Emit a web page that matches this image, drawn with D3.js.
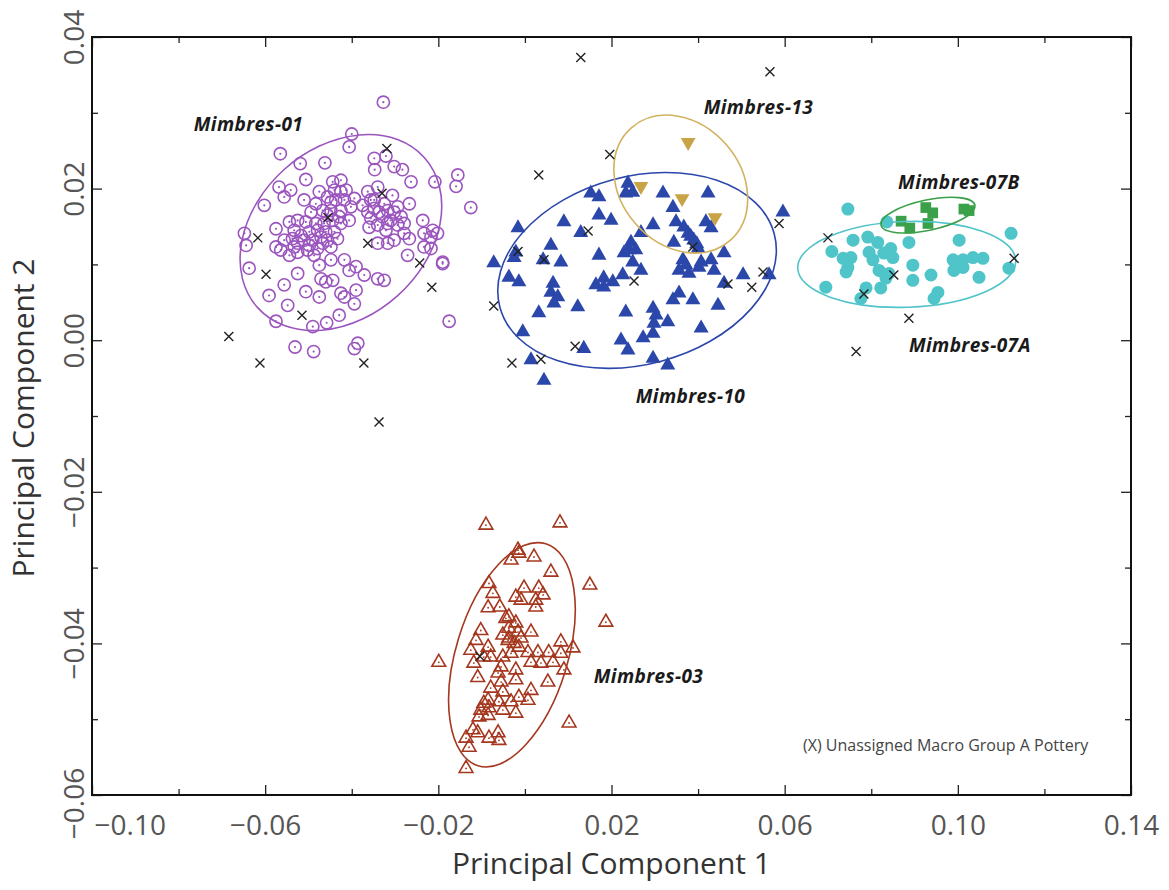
<!DOCTYPE html>
<html>
<head>
<meta charset="utf-8">
<script src="https://cdn.jsdelivr.net/npm/d3@7"></script>
<style>
  body { margin: 0; background: #fff; }
  text { font-family: "Open Sans", sans-serif; }
</style>
</head>
<body>
<div id="chart"></div>
<script>
// PCA scores, [PC1, PC2]
var mimbres01 = [
  [-0.0565,0.0246],[-0.0519,0.0233],[-0.0462,0.0234],[-0.0406,0.0255],[-0.0348,0.0240],[-0.0347,0.0225],[-0.0302,0.0229],[-0.0283,0.0225],[-0.0263,0.0209],[-0.0208,0.0209],[-0.0321,0.0243],
  [-0.0506,0.0212],[-0.0568,0.0202],[-0.0541,0.0198],[-0.0556,0.0189],[-0.0475,0.0196],[-0.0444,0.0209],[-0.0425,0.0211],[-0.0440,0.0198],[-0.0425,0.0196],[-0.0363,0.0196],[-0.0340,0.0202],[-0.0306,0.0191],[-0.0267,0.0180],[-0.0236,0.0158],[-0.0213,0.0145],[-0.0202,0.0141],
  [-0.0602,0.0178],[-0.0510,0.0185],[-0.0483,0.0180],[-0.0448,0.0182],[-0.0417,0.0185],[-0.0394,0.0187],[-0.0402,0.0176],[-0.0425,0.0171],[-0.0467,0.0171],[-0.0494,0.0169],[-0.0375,0.0178],[-0.0356,0.0185],[-0.0348,0.0174],[-0.0325,0.0180],[-0.0317,0.0171],[-0.0302,0.0169],[-0.0286,0.0163],[-0.0294,0.0152],[-0.0329,0.0163],[-0.0356,0.0161],[-0.0340,0.0152],[-0.0321,0.0145],
  [-0.0575,0.0147],[-0.0544,0.0156],[-0.0525,0.0158],[-0.0506,0.0156],[-0.0483,0.0154],[-0.0464,0.0154],[-0.0444,0.0158],[-0.0425,0.0154],[-0.0406,0.0158],[-0.0360,0.0149],[-0.0302,0.0132],[-0.0279,0.0141],[-0.0267,0.0134],[-0.0233,0.0141],[-0.0217,0.0136],
  [-0.0648,0.0141],[-0.0644,0.0125],[-0.0575,0.0123],[-0.0556,0.0132],[-0.0537,0.0134],[-0.0525,0.0128],[-0.0510,0.0132],[-0.0490,0.0132],[-0.0471,0.0136],[-0.0456,0.0132],[-0.0433,0.0134],[-0.0448,0.0123],[-0.0479,0.0121],[-0.0502,0.0119],[-0.0525,0.0116],[-0.0544,0.0112],[-0.0564,0.0119],[-0.0340,0.0128],[-0.0317,0.0128],[-0.0271,0.0112],[-0.0233,0.0123],[-0.0217,0.0121],[-0.0190,0.0101],
  [-0.0475,0.0099],[-0.0448,0.0106],[-0.0417,0.0106],[-0.0390,0.0097],[-0.0406,0.0092],[-0.0637,0.0095],[-0.0525,0.0088],[-0.0556,0.0073],[-0.0471,0.0081],[-0.0460,0.0077],[-0.0444,0.0079],[-0.0425,0.0062],[-0.0417,0.0057],[-0.0390,0.0066],[-0.0371,0.0086],[-0.0340,0.0081],[-0.0325,0.0079],
  [-0.0591,0.0059],[-0.0548,0.0046],[-0.0506,0.0064],[-0.0475,0.0057],[-0.0394,0.0048],[-0.0429,0.0033],
  [-0.0327,0.0314],[-0.0400,0.0272],[-0.0155,0.0218],[-0.0159,0.0203],[-0.0125,0.0175],[-0.0190,0.0103],[-0.0175,0.0025],[-0.0575,0.0025],[-0.0531,-0.0009],[-0.0488,-0.0015],[-0.0490,0.0018],[-0.0458,0.0023],[-0.0394,-0.0011],[-0.0386,-0.0004],
  [-0.0533,0.0145],[-0.0517,0.0138],[-0.0498,0.0143],[-0.0479,0.0145],[-0.0460,0.0143],[-0.0440,0.0143],[-0.0498,0.0125],[-0.0467,0.0128],[-0.0533,0.0123],[-0.0487,0.0112],[-0.0456,0.0189],[-0.0437,0.0185],[-0.0413,0.0198],[-0.0448,0.0171],[-0.0429,0.0163],[-0.0456,0.0165],[-0.0363,0.0169],[-0.0337,0.0169],[-0.0310,0.0158],[-0.0317,0.0154],[-0.0348,0.0185],[-0.0294,0.0176],[-0.0279,0.0154]
];

var mimbres10 = [
  [0.0238,0.0207],[0.0249,0.0195],[0.0233,0.0194],[0.0152,0.0194],[0.0171,0.0189],[0.0319,0.0194],[0.0423,0.0194],[0.0342,0.0175],[0.0171,0.0165],[0.0199,0.0158],[0.0090,0.0156],[0.0296,0.0152],[0.0349,0.0156],[0.0367,0.0149],[0.0418,0.0156],[0.0430,0.0148],[0.0596,0.0169],[-0.0016,0.0148],[0.0129,0.0142],[0.0268,0.0142],[0.0377,0.0141],[0.0390,0.0132],[0.0344,0.0129],[0.0245,0.0129],[0.0060,0.0125],[0.0240,0.0119],[0.0256,0.0119],[0.0229,0.0115],[-0.0021,0.0116],[-0.0025,0.0109],[0.0171,0.0112],[0.0400,0.0121],[0.0460,0.0115],[0.0365,0.0106],[0.0430,0.0106],[-0.0072,0.0102],[0.0042,0.0106],[0.0083,0.0103],[0.0268,0.0092],[0.0356,0.0092],[0.0379,0.0088],[0.0402,0.0096],[0.0437,0.0092],[-0.0037,0.0083],[-0.0014,0.0077],[0.0065,0.0075],[0.0164,0.0073],[0.0182,0.0082],[0.0203,0.0077],[0.0226,0.0086],[0.0182,0.0070],[0.0460,0.0075],[0.0504,0.0086],[0.0564,0.0086],[0.0060,0.0063],[0.0076,0.0057],[0.0067,0.0049],[0.0032,0.0036],[0.0122,0.0044],[0.0233,0.0037],[0.0342,0.0053],[0.0356,0.0062],[0.0388,0.0053],[0.0446,0.0046],[0.0296,0.0042],[0.0303,0.0033],[0.0330,0.0024],[0.0298,0.0022],[0.0296,0.0009],[0.0407,0.0016],[-0.0005,0.0011],[0.0273,0.0003],[0.0222,0.0000],[0.0238,-0.0013],[0.0136,-0.0011],[0.0014,-0.0026],[0.0296,-0.0024],[0.0330,-0.0033],[0.0044,-0.0053],[0.0383,0.0137],[0.0397,0.0127],[0.0372,0.0099],[0.0407,0.0103],[0.0249,0.0103]
];

var mimbres03 = [
  [-0.0090,-0.0244],[0.0081,-0.0241],[-0.0016,-0.0277],[-0.0032,-0.0290],[0.0021,-0.0286],[-0.0014,-0.0281],[0.0060,-0.0306],[0.0150,-0.0323],[-0.0083,-0.0321],[-0.0074,-0.0334],[-0.0002,-0.0327],[-0.0021,-0.0339],[-0.0009,-0.0343],[0.0032,-0.0327],[0.0042,-0.0336],[0.0025,-0.0343],[0.0025,-0.0352],[-0.0085,-0.0353],[-0.0058,-0.0352],[0.0187,-0.0372],[-0.0037,-0.0365],[-0.0102,-0.0383],[-0.0051,-0.0389],[-0.0037,-0.0380],[-0.0016,-0.0385],[0.0014,-0.0385],[-0.0113,-0.0396],[-0.0085,-0.0405],[-0.0039,-0.0396],[-0.0025,-0.0400],[-0.0014,-0.0405],[0.0083,-0.0398],[0.0111,-0.0406],[0.0007,-0.0412],[0.0030,-0.0412],[0.0055,-0.0412],[0.0083,-0.0413],[-0.0199,-0.0425],[-0.0118,-0.0426],[-0.0079,-0.0418],[-0.0051,-0.0418],[-0.0032,-0.0413],[0.0014,-0.0425],[0.0037,-0.0426],[0.0065,-0.0425],[0.0090,-0.0435],[-0.0109,-0.0445],[-0.0055,-0.0431],[-0.0021,-0.0435],[0.0053,-0.0451],[-0.0079,-0.0459],[-0.0055,-0.0451],[-0.0051,-0.0464],[-0.0021,-0.0448],[0.0014,-0.0462],[-0.0014,-0.0471],[0.0007,-0.0475],[-0.0032,-0.0477],[-0.0095,-0.0479],[-0.0102,-0.0488],[-0.0083,-0.0485],[-0.0106,-0.0497],[-0.0085,-0.0495],[-0.0060,-0.0477],[-0.0051,-0.0488],[-0.0021,-0.0492],[0.0102,-0.0505],[-0.0120,-0.0514],[-0.0136,-0.0525],[-0.0083,-0.0525],[-0.0062,-0.0518],[-0.0060,-0.0528],[-0.0129,-0.0537],[-0.0136,-0.0565],[-0.0109,-0.0518],[-0.0037,-0.0393],[-0.0062,-0.0439],[-0.0009,-0.0393],[-0.0095,-0.0418],[-0.0125,-0.0409],[-0.0085,-0.0475],[-0.0044,-0.0367],[-0.0021,-0.0373]
];

var mimbres07A = [
  [0.0746,0.0173],[0.0836,0.0156],[0.0758,0.0132],[0.0792,0.0136],[0.0815,0.0129],[0.0845,0.0121],[0.0887,0.0129],[0.1003,0.0132],[0.1123,0.0141],[0.0709,0.0117],[0.0735,0.0108],[0.0753,0.0109],[0.0746,0.0096],[0.0742,0.0090],[0.0804,0.0106],[0.0795,0.0116],[0.0829,0.0115],[0.0850,0.0109],[0.0818,0.0092],[0.0841,0.0088],[0.0834,0.0082],[0.0896,0.0099],[0.0896,0.0079],[0.0938,0.0086],[0.0989,0.0106],[0.1012,0.0106],[0.1035,0.0109],[0.1058,0.0108],[0.0991,0.0092],[0.1049,0.0083],[0.1118,0.0095],[0.0695,0.0070],[0.0788,0.0069],[0.0822,0.0069],[0.0776,0.0055],[0.0954,0.0063],[0.0945,0.0055],[0.1012,0.0096]
];

var mimbres07B = [
  [0.0869,0.0157],[0.0889,0.0148],[0.0926,0.0175],[0.0942,0.0168],[0.0931,0.0154],[0.1014,0.0173],[0.1026,0.0171]
];

var mimbres13 = [
  [0.0377,0.0261],[0.0268,0.0203],[0.0363,0.0187],[0.0439,0.0162]
];

// (X) unassigned Macro Group A pottery
var unassigned = [
  [0.0129,0.0373],[0.0566,0.0354],[-0.0319,0.0253],[0.0196,0.0245],[0.0032,0.0218],[-0.0455,0.0162],[-0.0330,0.0194],[-0.0617,0.0135],[-0.0363,0.0128],[-0.0243,0.0102],[-0.0598,0.0087],[-0.0215,0.0070],[-0.0515,0.0033],[-0.0684,0.0005],[-0.0612,-0.0030],[-0.0372,-0.0030],[-0.0337,-0.0108],
  [0.0146,0.0144],[-0.0016,0.0117],[0.0044,0.0106],[0.0252,0.0078],[-0.0072,0.0045],[0.0116,-0.0008],[-0.0030,-0.0030],[0.0037,-0.0025],[0.0388,0.0123],[0.0587,0.0154],[0.0550,0.0090],[0.0524,0.0070],[0.0469,0.0074],
  [0.0700,0.0135],[0.0852,0.0086],[0.0783,0.0061],[0.1130,0.0108],[0.0887,0.0029],[0.0765,-0.0015],[-0.0104,-0.0417]
];

// confidence ellipses: centre, semi-axes (PC1 units), screen rotation in degrees
var ellipses = [
  {group: "Mimbres-01",  cx: -0.0425, cy: 0.0142,  a: 0.0259, b: 0.0196, angle: -42},
  {group: "Mimbres-10",  cx: 0.0259,  cy: 0.0092,  a: 0.0328, b: 0.0217, angle: -15},
  {group: "Mimbres-13",  cx: 0.0360,  cy: 0.0206,  a: 0.0173, b: 0.0139, angle: 49},
  {group: "Mimbres-03",  cx: -0.0030, cy: -0.0415, a: 0.0268, b: 0.0129, angle: -73},
  {group: "Mimbres-07A", cx: 0.0882,  cy: 0.0100,  a: 0.0252, b: 0.0099, angle: -2},
  {group: "Mimbres-07B", cx: 0.0931,  cy: 0.0165,  a: 0.0111, b: 0.0035, angle: -12}
];

var groupLabels = [
  {text: "Mimbres-01",  x: -0.0765, y: 0.0276},
  {text: "Mimbres-13",  x: 0.0413,  y: 0.0298},
  {text: "Mimbres-07B", x: 0.0862,  y: 0.0200},
  {text: "Mimbres-07A", x: 0.0887,  y: -0.0016},
  {text: "Mimbres-10",  x: 0.0256,  y: -0.0083},
  {text: "Mimbres-03",  x: 0.0159,  y: -0.0452}
];

var xMajor = [-0.10, -0.06, -0.02, 0.02, 0.06, 0.10, 0.14];
var xMinor = [-0.08, -0.04, 0.00, 0.04, 0.08, 0.12];
var yMajor = [0.04, 0.02, 0.00, -0.02, -0.04, -0.06];
var yMinor = [0.03, 0.01, -0.01, -0.03, -0.05];

var colors = {
  "Mimbres-01": "#9b55be",
  "Mimbres-10": "#2b47aa",
  "Mimbres-13": "#d1b25e",
  "Mimbres-03": "#a5371e",
  "Mimbres-07A": "#4fc4c9",
  "Mimbres-07B": "#3aa049"
};

var margin = {top: 37, right: 38, bottom: 95, left: 92},
    width = 1169 - margin.left - margin.right,
    height = 890 - margin.top - margin.bottom;

var x = d3.scaleLinear().domain([-0.10, 0.14]).range([0, width]);
var y = d3.scaleLinear().domain([-0.06, 0.04]).range([height, 0]);
var fmt = d3.format(".2f");

var svg = d3.select("#chart").append("svg")
  .attr("width", 1169)
  .attr("height", 890);

var main = svg.append("g")
  .attr("transform", "translate(" + margin.left + "," + margin.top + ")");

// ---- axes (ticks point into the plot) ----
var axBottom = main.append("g")
  .attr("transform", "translate(0," + height + ")")
  .call(d3.axisBottom(x).tickValues(xMajor).tickSize(-10).tickPadding(20).tickFormat(fmt));
axBottom.append("g").call(d3.axisBottom(x).tickValues(xMinor).tickSize(-6).tickFormat(""));

var axTop = main.append("g")
  .call(d3.axisTop(x).tickValues(xMajor).tickSize(-10).tickFormat(""));
axTop.append("g").call(d3.axisTop(x).tickValues(xMinor).tickSize(-6).tickFormat(""));

var axLeft = main.append("g")
  .call(d3.axisLeft(y).tickValues(yMajor).tickSize(-10).tickFormat(fmt));
axLeft.append("g").call(d3.axisLeft(y).tickValues(yMinor).tickSize(-6).tickFormat(""));

var axRight = main.append("g")
  .attr("transform", "translate(" + width + ",0)")
  .call(d3.axisRight(y).tickValues(yMajor).tickSize(-10).tickFormat(""));
axRight.append("g").call(d3.axisRight(y).tickValues(yMinor).tickSize(-6).tickFormat(""));

main.selectAll(".domain").remove();
main.selectAll(".tick line").attr("stroke", "#222").attr("stroke-width", 1.3);

axBottom.selectAll(".tick text")
  .attr("font-size", 28)
  .attr("fill", "#555")
  .attr("font-family", "Open Sans, sans-serif");
// first label sits to the right of the corner
axBottom.selectAll(".tick text").filter(function(d) { return d === xMajor[0]; })
  .attr("text-anchor", "start").attr("x", 2);

// y tick labels are turned on their side
axLeft.selectAll(".tick text")
  .attr("font-size", 28)
  .attr("fill", "#555")
  .attr("font-family", "Open Sans, sans-serif")
  .attr("text-anchor", "middle")
  .attr("x", 0).attr("y", 0).attr("dy", 0)
  .attr("transform", function(d) {
    var shift = d === yMajor[yMajor.length - 1] ? 8 : 0;
    return "translate(-8," + shift + ") rotate(-90)";
  });

// frame
main.append("rect")
  .attr("width", width)
  .attr("height", height)
  .attr("fill", "none")
  .attr("stroke", "#111")
  .attr("stroke-width", 2);

// ---- points ----
var plot = main.append("g");

// Mimbres-01: open circle with a centre dot
var g01 = plot.append("g").selectAll("g").data(mimbres01).enter().append("g")
  .attr("transform", function(d) { return "translate(" + x(d[0]) + "," + y(d[1]) + ")"; });
g01.append("circle").attr("r", 6.1).attr("fill", "none")
  .attr("stroke", colors["Mimbres-01"]).attr("stroke-width", 1.6);
g01.append("circle").attr("r", 1.1).attr("fill", colors["Mimbres-01"]);

// Mimbres-10: filled triangles
plot.append("g").selectAll("path").data(mimbres10).enter().append("path")
  .attr("d", d3.symbol().type(d3.symbolTriangle).size(98))
  .attr("transform", function(d) { return "translate(" + x(d[0]) + "," + y(d[1]) + ")"; })
  .attr("fill", colors["Mimbres-10"]);

// Mimbres-03: open triangles with a centre dot
var g03 = plot.append("g").selectAll("g").data(mimbres03).enter().append("g")
  .attr("transform", function(d) { return "translate(" + x(d[0]) + "," + y(d[1]) + ")"; });
g03.append("path").attr("d", d3.symbol().type(d3.symbolTriangle).size(82))
  .attr("fill", "none").attr("stroke", colors["Mimbres-03"]).attr("stroke-width", 1.6);
g03.append("circle").attr("r", 0.9).attr("fill", colors["Mimbres-03"]);

// Mimbres-07A: filled circles
plot.append("g").selectAll("circle").data(mimbres07A).enter().append("circle")
  .attr("cx", function(d) { return x(d[0]); })
  .attr("cy", function(d) { return y(d[1]); })
  .attr("r", 6.5)
  .attr("fill", colors["Mimbres-07A"]);

// Mimbres-07B: filled squares
plot.append("g").selectAll("path").data(mimbres07B).enter().append("path")
  .attr("d", d3.symbol().type(d3.symbolSquare).size(115))
  .attr("transform", function(d) { return "translate(" + x(d[0]) + "," + y(d[1]) + ")"; })
  .attr("fill", colors["Mimbres-07B"]);

// Mimbres-13: downward triangles
plot.append("g").selectAll("path").data(mimbres13).enter().append("path")
  .attr("d", d3.symbol().type(d3.symbolTriangle).size(95))
  .attr("transform", function(d) { return "translate(" + x(d[0]) + "," + y(d[1]) + ") rotate(180)"; })
  .attr("fill", "#c8a446");

// ---- ellipses ----
plot.append("g").selectAll("ellipse").data(ellipses).enter().append("ellipse")
  .attr("rx", function(e) { return x(e.cx + e.a) - x(e.cx); })
  .attr("ry", function(e) { return x(e.cx + e.b) - x(e.cx); })
  .attr("transform", function(e) { return "translate(" + x(e.cx) + "," + y(e.cy) + ") rotate(" + e.angle + ")"; })
  .attr("fill", "none")
  .attr("stroke", function(e) { return colors[e.group]; })
  .attr("stroke-width", 1.6);

// unassigned X marks
var cross = "M-4.5,-4.5L4.5,4.5M-4.5,4.5L4.5,-4.5";
plot.append("g").selectAll("path").data(unassigned).enter().append("path")
  .attr("d", cross)
  .attr("transform", function(d) { return "translate(" + x(d[0]) + "," + y(d[1]) + ")"; })
  .attr("stroke", "#222")
  .attr("stroke-width", 1.4)
  .attr("fill", "none");

// ---- group labels ----
main.append("g").selectAll("text").data(groupLabels).enter().append("text")
  .attr("x", function(d) { return x(d.x); })
  .attr("y", function(d) { return y(d.y); })
  .attr("font-size", 19)
  .attr("font-weight", "bold")
  .attr("font-style", "italic")
  .attr("letter-spacing", 0.4)
  .attr("fill", "#1a1a1a")
  .text(function(d) { return d.text; });

// note in the lower right
svg.append("text")
  .attr("x", 803)
  .attr("y", 751)
  .attr("font-size", 16)
  .attr("fill", "#444")
  .text("(X) Unassigned Macro Group A Pottery");

// axis titles
svg.append("text")
  .attr("text-anchor", "middle")
  .attr("x", margin.left + width / 2)
  .attr("y", 874)
  .attr("font-size", 30)
  .attr("fill", "#333")
  .text("Principal Component 1");

svg.append("text")
  .attr("text-anchor", "middle")
  .attr("transform", "translate(34," + (margin.top + height / 2 + 2) + ") rotate(-90)")
  .attr("font-size", 30)
  .attr("fill", "#333")
  .text("Principal Component 2");
</script>
</body>
</html>
